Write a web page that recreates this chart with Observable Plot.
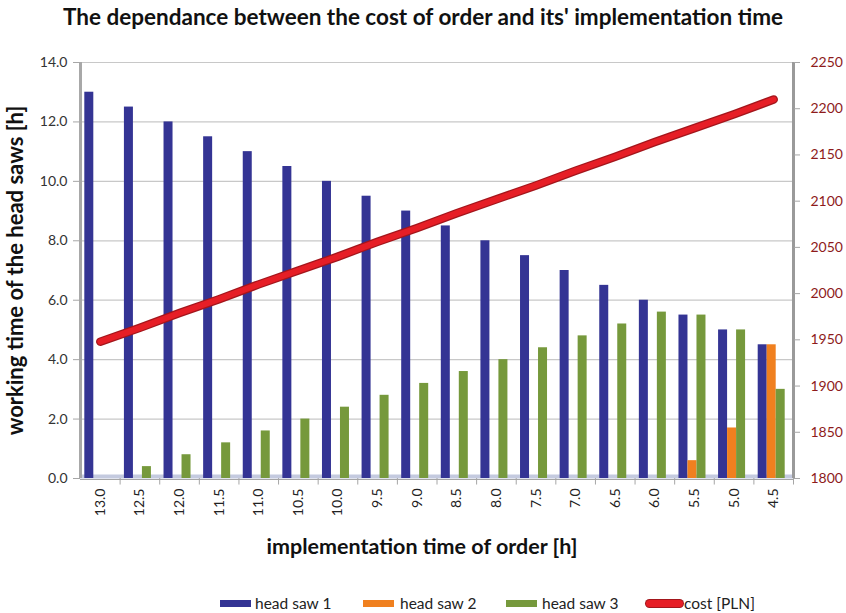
<!DOCTYPE html>
<html><head><meta charset="utf-8">
<script src="https://cdn.jsdelivr.net/npm/d3@7"></script>
<script src="https://cdn.jsdelivr.net/npm/@observablehq/plot@0.6"></script>
<style>
body{margin:0;background:#fff;font-family:Lato,"Open Sans",sans-serif;}
#wrap{position:relative;width:846px;height:613px;overflow:hidden;background:#fff}
#title{position:absolute;left:0;top:3px;width:846px;text-align:center;font-weight:bold;font-size:22.5px;color:#111;white-space:nowrap}
#chart{position:absolute;left:0;top:36px}
#legend{position:absolute;left:0;top:593px;width:846px;height:20px;font-size:15.5px;color:#222}
.sw{position:absolute;top:7px;width:31px;height:7px}
.lt{position:absolute;top:0;line-height:20px;white-space:nowrap}
svg g[aria-label="y-axis label"] text{font-weight:bold;font-size:22px;fill:#111}
</style>
</head><body>
<div id="wrap">
  <div id="title">The dependance between the cost of order and its' implementation time</div>
  <div id="chart"></div>
  <div id="legend"></div>
</div>
<script>
// ---- data ----
const categories = ["13.0","12.5","12.0","11.5","11.0","10.5","10.0","9.5","9.0","8.5","8.0","7.5","7.0","6.5","6.0","5.5","5.0","4.5"];
const headSaw1 = [13.0,12.5,12.0,11.5,11.0,10.5,10.0,9.5,9.0,8.5,8.0,7.5,7.0,6.5,6.0,5.5,5.0,4.5];
const headSaw2 = [0,0,0,0,0,0,0,0,0,0,0,0,0,0,0,0.6,1.7,4.5];
const headSaw3 = [0,0.4,0.8,1.2,1.6,2.0,2.4,2.8,3.2,3.6,4.0,4.4,4.8,5.2,5.6,5.5,5.0,3.0];
const costPLN = [1948,1963,1979,1994,2010,2025,2040,2056,2071,2087,2102,2117,2133,2148,2164,2179,2194,2210];
const leftTicks = [0,2,4,6,8,10,12,14];
const rightTicks = [1800,1850,1900,1950,2000,2050,2100,2150,2200,2250];
const seriesNames = ["head saw 1","head saw 2","head saw 3","cost [PLN]"];
const seriesColors = ["#343494","#f0801f","#76993c","#e61e26"];
const xLabel = "implementation time of order [h]";
const yLabel = "working time of the head saws [h]";

// ---- layout ----
const W = 846, H = 555, ML = 80, MR = 53, MT = 26, MB = 113;
const yMax = leftTicks[leftTicks.length-1];
const cMin = rightTicks[0], cMax = rightTicks[rightTicks.length-1];
const costToY = c => (c - cMin) * yMax / (cMax - cMin);
const yToCost = y => String(Math.round(cMin + y * (cMax - cMin) / yMax));
const bw = (W - ML - MR) / categories.length;
const barW = 9;
const inset = (bw - barW) / 2;

const rows = categories.map((c, i) => ({cat: c, s1: headSaw1[i], s2: headSaw2[i], s3: headSaw3[i], cost: costPLN[i]}));

const chart = Plot.plot({
  width: W, height: H,
  marginLeft: ML, marginRight: MR, marginTop: MT, marginBottom: MB,
  style: {fontFamily: "Lato, 'Open Sans', sans-serif", fontSize: "14px", background: "white", overflow: "visible"},
  x: {type: "band", domain: categories, padding: 0, round: false, axis: null},
  y: {domain: [0, yMax], axis: null},
  marks: [
    Plot.ruleY(leftTicks.slice(1), {stroke: "#c8c8c8", strokeWidth: 1.2}),
    Plot.ruleY([0], {stroke: "#c4cadf", strokeWidth: 4, dy: -2}),
    Plot.ruleY([0], {stroke: "#a6a6a6", strokeWidth: 1, dy: 1}),
    Plot.ruleX(categories, {dx: bw/2, y1: 0, y2: -0.22, stroke: "#a6a6a6"}),
    Plot.ruleX([categories[0]], {dx: -bw/2, stroke: "#a8a8a8", strokeWidth: 3}),
    Plot.ruleX([categories[categories.length-1]], {dx: bw/2, stroke: "#9a9a9a", strokeWidth: 3}),
    Plot.barY(rows, {x: "cat", y: "s1", fill: seriesColors[0], insetLeft: inset, insetRight: inset, dx: -11}),
    Plot.barY(rows, {x: "cat", y: "s2", fill: seriesColors[1], insetLeft: inset, insetRight: inset, dx: -2}),
    Plot.barY(rows, {x: "cat", y: "s3", fill: seriesColors[2], insetLeft: inset, insetRight: inset, dx: 7}),
    Plot.line(rows, {x: "cat", y: d => costToY(d.cost), stroke: "#a3161c", strokeWidth: 8.5, strokeLinecap: "round"}),
    Plot.line(rows, {x: "cat", y: d => costToY(d.cost), stroke: seriesColors[3], strokeWidth: 6, strokeLinecap: "round"}),
    Plot.axisY(leftTicks, {anchor: "left", tickFormat: d => d.toFixed(1), tickSize: 7, tickPadding: 6,
      stroke: "#a6a6a6", fill: "#333", fontSize: 14,
      label: yLabel, labelAnchor: "center", labelOffset: 73, labelArrow: "none"}),
    Plot.axisY(rightTicks.map(costToY), {anchor: "right", tickFormat: yToCost, tickSize: 6, tickPadding: 11,
      stroke: "#a6a6a6", fill: "#8e1b1b", fontSize: 14, label: null}),
    Plot.axisX(categories, {anchor: "bottom", tickSize: 0, tickPadding: 10, tickRotate: -90, fill: "#222", fontSize: 14, label: null}),
    Plot.text([xLabel], {frameAnchor: "bottom", dy: 75, dx: -15, fontSize: 21.5, fontWeight: "bold", fill: "#111"})
  ]
});
document.getElementById("chart").appendChild(chart);

// ---- legend ----
const legend = document.getElementById("legend");
const swX = [220, 363, 506, 646];
const txX = [255, 400, 542, 684];
seriesNames.forEach((n, i) => {
  const s = document.createElement("div");
  s.className = "sw";
  s.style.left = swX[i] + "px";
  s.style.background = seriesColors[i];
  if (i === 3) { s.style.width = "37px"; s.style.height = "7px"; s.style.borderRadius = "4px"; s.style.boxShadow = "0 0 0 1px #a3161c"; }
  legend.appendChild(s);
  const t = document.createElement("div");
  t.className = "lt";
  t.style.left = txX[i] + "px";
  t.textContent = n;
  legend.appendChild(t);
});
</script>
</body></html>
